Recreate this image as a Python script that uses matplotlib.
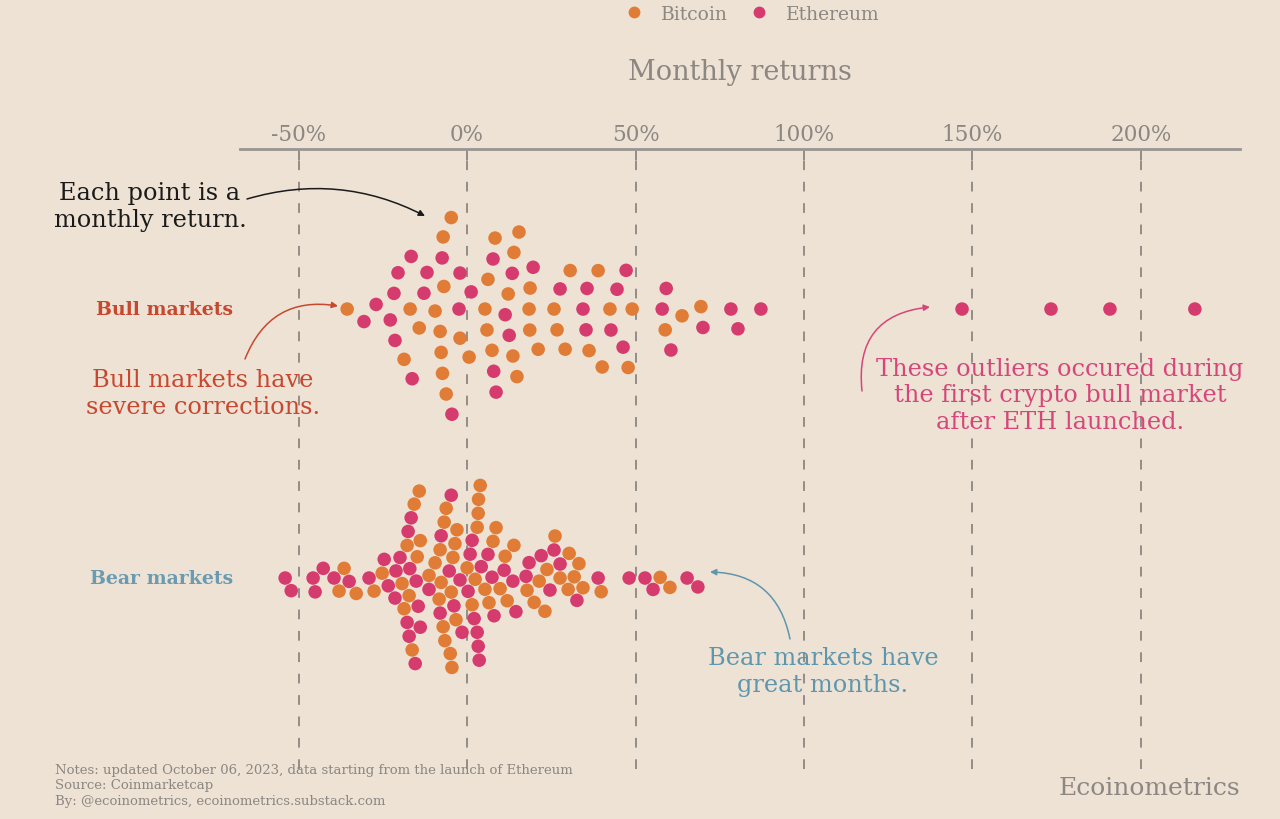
import numpy as np
import matplotlib
matplotlib.use("Agg")
import matplotlib.pyplot as plt
import matplotlib.transforms as mtransforms
from matplotlib.lines import Line2D

# monthly returns (%)
bull_btc = [-9.5, -4.7, 5.9, 12.2, 18.4, 13.9, -7.1, 15.4, -7.3, -16.9, -7.7, 7.4,
            5.3, 18.6, -35.6, -6.2, -2.1, 13.6, 21.1, -14.2, 0.6, 14.8, -18.7, -6.9,
            8.3, 18.7, -8.0, 6.2, 30.6, 36.2, 25.8, 40.1, 47.8, 29.1, 42.4, 63.8,
            58.8, 69.4, 26.7, 38.9, 49.0]
bull_eth = [-2.1, -20.5, -16.3, 1.2, 7.7, -12.8, 8.6, -27.0, -21.7, -2.4, 13.4, 19.6,
            -30.6, -21.4, -11.9, -16.6, 11.3, -22.8, -7.4, 7.9, -4.5, 12.5, 42.7,
            27.6, 35.3, 46.3, 59.1, 57.9, 70.0, 80.4, 87.2, 78.3, 35.6, 47.2, 34.4,
            60.5, 44.5, 146.9, 173.3, 190.8, 216.0]
bear_btc = [-38.0, -32.9, -36.5, -25.2, -27.6, -19.3, -15.7, -13.9, -17.2, -6.8, -9.5,
            -7.1, -4.5, -3.3, -8.0, 0.0, 2.4, 1.5, 6.5, -6.6, -4.2, -17.8, -11.3, -3.0,
            -7.7, 3.3, 3.9, 8.6, -14.2, -5.0, -16.3, -18.7, 5.3, -4.7, 7.7, -8.3, -3.6,
            3.0, 3.4, -14.8, -6.2, 9.8, 17.8, 11.3, 19.9, 30.0, 33.2, 31.8, 11.9, 21.4,
            23.7, 27.6, 39.8, 60.2, 57.3, 34.4, 13.9, 26.1, 30.3, 23.1]
bear_eth = [-54.0, -52.2, -45.7, -42.7, -45.1, -39.5, -35.0, -29.1, -24.6, -21.1,
            -23.4, -15.1, -17.5, -16.6, -17.8, -14.5, -15.4, -11.3, -3.9, -2.1, 0.9,
            3.3, 7.4, 4.2, -8.0, -4.7, 3.0, 6.2, 3.6, 8.0, -5.3, 0.3, -19.9, -17.2,
            -21.4, -13.9, -17.0, -7.7, -1.5, 2.1, 1.5, 13.6, 22.0, 14.5, 25.8, 27.6,
            17.5, 18.4, 24.6, 32.6, 11.0, 38.9, 48.1, 55.2, 52.8, 65.3, 68.5]

markets = ["Bull markets", "Bear markets"]
ticks = [-50, 0, 50, 100, 150, 200]
tick_labels = ["-50%", "0%", "50%", "100%", "150%", "200%"]

BG = "#ede2d4"
ORANGE = "#e07c36"
MAGENTA = "#d63b6e"
GREY = "#8c8782"
BULL_C = "#c8472f"
BEAR_C = "#6a9bb2"

plt.rcParams["font.family"] = ["DejaVu Serif"]

W, H = 1280, 820
fig = plt.figure(figsize=(W / 100, H / 100), dpi=100, facecolor=BG)
ax = fig.add_axes([240 / W, 50 / H, 1000 / W, 620 / H])
ax.set_facecolor(BG)
ax.set_xlim(-67.4, 229.4)
ax.set_ylim(1.71, -0.595)


def swarm(xs, row, d):
    # greedy beeswarm, done in pixel space
    xs = np.asarray(xs, float)
    pts = ax.transData.transform(np.column_stack([xs, np.full(len(xs), row)]))
    px, cy = pts[:, 0], pts[0, 1]
    ys = np.zeros(len(xs))
    placed = []
    for i in np.argsort(px, kind="stable"):
        cands, blocks = [0.0], []
        for j in placed:
            dx = px[i] - px[j]
            if abs(dx) < d:
                h = np.sqrt(d * d - dx * dx)
                blocks.append((ys[j] - h, ys[j] + h))
                cands += [ys[j] - h, ys[j] + h]
        cands.sort(key=abs)
        for c in cands:
            if all(not (lo + 1e-6 < c < hi - 1e-6) for lo, hi in blocks):
                ys[i] = c
                break
        placed.append(i)
    back = ax.transData.inverted().transform(np.column_stack([px, cy + ys]))
    return back[:, 1]


spacing = [21, 14]  # min distance between dot centres, px
for row, (btc, eth) in enumerate([(bull_btc, bull_eth), (bear_btc, bear_eth)]):
    xs = np.array(btc + eth)
    cols = [ORANGE] * len(btc) + [MAGENTA] * len(eth)
    ys = swarm(xs, row, spacing[row])
    ax.scatter(xs, ys, s=95, c=cols, linewidths=0, zorder=3)

# axis styling
ax.xaxis.tick_top()
ax.set_xticks(ticks)
ax.set_xticklabels(tick_labels)
ax.tick_params(axis="x", direction="in", length=8, width=1.3, color=GREY,
               labelcolor=GREY, labelsize=15.5, pad=3)
ax.set_yticks([])
for s in ["left", "right", "bottom"]:
    ax.spines[s].set_visible(False)
ax.spines["top"].set_color("#9a9592")
ax.spines["top"].set_linewidth(2)
ax.grid(axis="x", color="#928d89", linestyle=(0, (5, 6)), linewidth=1.4, zorder=0)

# row labels
blend = mtransforms.blended_transform_factory(fig.transFigure, ax.transData)
ax.text(233 / W, 0, markets[0], transform=blend, ha="right", va="center",
        fontsize=13.6, fontweight="bold", color=BULL_C)
ax.text(233 / W, 1, markets[1], transform=blend, ha="right", va="center",
        fontsize=13.6, fontweight="bold", color=BEAR_C)

# title and legend
fig.text(740 / W, 1 - 72 / H, "Monthly returns", ha="center", va="center",
         fontsize=19.5, color=GREY)
handles = [Line2D([], [], ls="", marker="o", ms=8.5, mfc=ORANGE, mec="none", label="Bitcoin"),
           Line2D([], [], ls="", marker="o", ms=8.5, mfc=MAGENTA, mec="none", label="Ethereum")]
leg = fig.legend(handles=handles, loc="center", bbox_to_anchor=(752 / W, 1 - 15 / H),
                 ncol=2, frameon=False, fontsize=13.5, handletextpad=0.9,
                 columnspacing=1.2, handlelength=1.0)
for t in leg.get_texts():
    t.set_color(GREY)


def fp(x, y):
    return (x, H - y)


def note(x, y, txt, color):
    fig.text(x / W, 1 - y / H, txt, ha="center", va="center", fontsize=17.3,
             color=color, linespacing=1.17)


def arrow(a, b, rad, color):
    ax.annotate("", xy=fp(*b), xytext=fp(*a), xycoords="figure pixels",
                textcoords="figure pixels", annotation_clip=False,
                arrowprops=dict(arrowstyle="-|>", connectionstyle=f"arc3,rad={rad}",
                                color=color, lw=1.1, mutation_scale=9,
                                shrinkA=0, shrinkB=0))


note(150, 207, "Each point is a\nmonthly return.", "#1a1a1a")
arrow((247, 200), (425, 217), -0.2, "#1a1a1a")

note(203, 394, "Bull markets have\nsevere corrections.", BULL_C)
arrow((245, 360), (338, 307), -0.4, BULL_C)

note(1060, 396, "These outliers occured during\nthe first crypto bull market\nafter ETH launched.",
     "#d6467a")
arrow((862, 392), (930, 308), -0.5, "#d6467a")

note(823, 672, "Bear markets have\ngreat months.", "#5e96ad")
arrow((790, 640), (710, 573), 0.4, "#5e96ad")

# footer
fig.text(55 / W, 1 - 764 / H,
         "Notes: updated October 06, 2023, data starting from the launch of Ethereum\n"
         "Source: Coinmarketcap\nBy: @ecoinometrics, ecoinometrics.substack.com",
         ha="left", va="top", fontsize=9.5, color=GREY, linespacing=1.25)
fig.text(1240 / W, 1 - 789 / H, "Ecoinometrics", ha="right", va="center",
         fontsize=18, color=GREY)

fig.savefig("out.png", dpi=100, facecolor=BG)
